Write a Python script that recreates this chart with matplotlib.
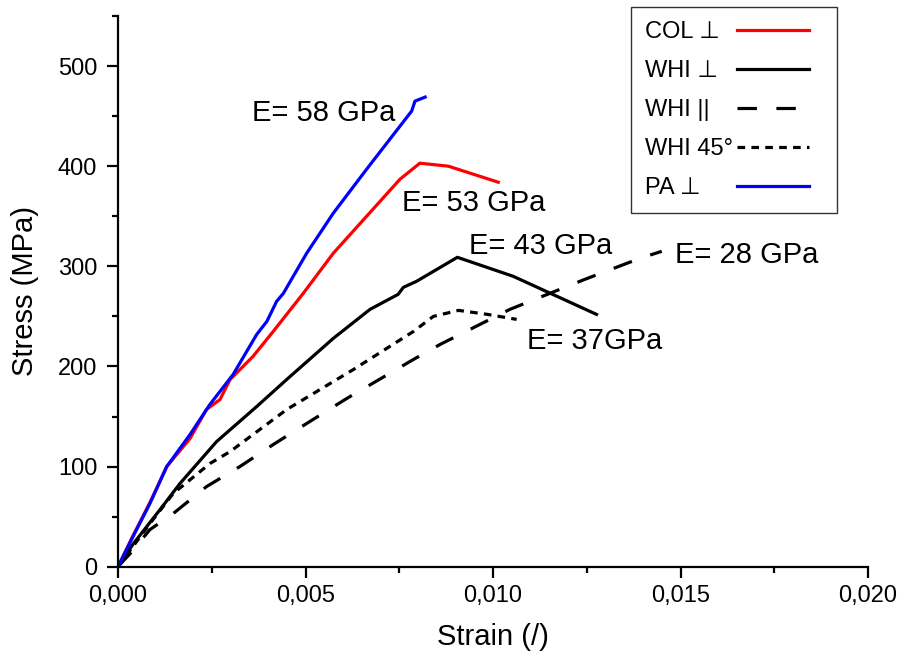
import matplotlib
matplotlib.use("Agg")
import matplotlib.pyplot as plt
import numpy as np
from matplotlib.ticker import MultipleLocator, FuncFormatter

plt.rcParams['font.family'] = ['Liberation Sans', 'DejaVu Sans']
plt.rcParams['lines.scale_dashes'] = False

# Stress-strain curves (strain in /, stress in MPa)
pa_perp_strain = [0, 0.0004, 0.00085, 0.0013, 0.00192, 0.00245, 0.00307, 0.0037, 0.00397,
                  0.00423, 0.00441, 0.00503, 0.00574, 0.00663, 0.00783, 0.00792, 0.00819]
pa_perp_stress = [0, 30, 63, 100, 132, 162, 192, 232, 245,
                  265, 273, 313, 353, 397, 455, 465, 469]

col_perp_strain = [0, 0.0004, 0.00085, 0.0013, 0.00192, 0.00236, 0.00272, 0.00299, 0.0036,
                   0.00414, 0.00494, 0.00574, 0.00663, 0.00752, 0.00805, 0.00881, 0.01014]
col_perp_stress = [0, 31, 64, 100, 128, 157, 167, 187, 210,
                   235, 273, 313, 350, 387, 403, 400, 384]

whi_perp_strain = [0, 0.00041, 0.00112, 0.00165, 0.00263, 0.0037, 0.0045, 0.00574, 0.00672,
                   0.00747, 0.00761, 0.00796, 0.00905, 0.01054, 0.01276]
whi_perp_stress = [0, 23, 57, 83, 125, 160, 187, 228, 257,
                   272, 279, 285, 309, 290, 252]

whi_par_strain = [0, 0.00032, 0.00085, 0.00147, 0.00236, 0.00325, 0.00414, 0.00503, 0.0061,
                  0.00788, 0.00859, 0.01045, 0.01245, 0.01392, 0.0145]
whi_par_stress = [0, 13, 37, 53, 80, 100, 122, 143, 168,
                  207, 222, 257, 287, 308, 315]

whi_45_strain = [0, 0.00085, 0.00147, 0.00245, 0.00299, 0.0045, 0.00628, 0.00788, 0.00841,
                 0.00908, 0.00985, 0.01063]
whi_45_stress = [0, 43, 73, 103, 115, 157, 197, 235, 250,
                 256, 252, 247]

moduli_labels = ["E= 58 GPa", "E= 53 GPa", "E= 43 GPa", "E= 28 GPa", "E= 37GPa"]
moduli_x = [0.00356, 0.00757, 0.00937, 0.01485, 0.0109]
moduli_y = [445, 355, 312, 303, 217]

fig = plt.figure(figsize=(9.02, 6.64), dpi=100)
ax = fig.add_axes([118 / 902, 1 - 566.7 / 664, 750 / 902, (566.7 - 16) / 664])

lw = 2.3
ax.plot(col_perp_strain, col_perp_stress, color='#ff0000', lw=lw, label='COL \u22a5')
ax.plot(whi_perp_strain, whi_perp_stress, color='black', lw=lw, label='WHI \u22a5')
ax.plot(whi_par_strain, whi_par_stress, color='black', lw=lw, ls=(0, (14, 14)), label='WHI ||')
ax.plot(whi_45_strain, whi_45_stress, color='black', lw=lw, ls=(0, (5.5, 4.5)), label='WHI 45\u00b0')
ax.plot(pa_perp_strain, pa_perp_stress, color='#0000ff', lw=lw, label='PA \u22a5')

for txt, x, y in zip(moduli_labels, moduli_x, moduli_y):
    ax.text(x, y, txt, fontsize=21, ha='left', va='baseline')

ax.set_xlim(0, 0.020)
ax.set_ylim(0, 550)
for s in ('top', 'right'):
    ax.spines[s].set_visible(False)
for s in ('left', 'bottom'):
    ax.spines[s].set_linewidth(1.6)

ax.xaxis.set_major_locator(MultipleLocator(0.005))
ax.xaxis.set_minor_locator(MultipleLocator(0.0025))
ax.yaxis.set_major_locator(MultipleLocator(100))
ax.yaxis.set_minor_locator(MultipleLocator(50))
ax.xaxis.set_major_formatter(FuncFormatter(lambda v, p: f"{v:.3f}".replace('.', ',')))
ax.yaxis.set_major_formatter(FuncFormatter(lambda v, p: f"{v:.0f}"))
ax.tick_params(which='major', direction='out', length=8, width=1.6, labelsize=17)
ax.tick_params(which='minor', direction='out', length=4.5, width=1.6)
ax.tick_params(axis='x', which='major', pad=5)
ax.tick_params(axis='y', which='major', pad=7)

ax.set_xlabel('Strain (/)', fontsize=21, labelpad=12)
ax.set_ylabel('Stress (MPa)', fontsize=21)
ax.yaxis.set_label_coords(-0.105, 0.5)

leg = ax.legend(loc='upper left', bbox_to_anchor=(631 / 902, 1 - 7 / 664),
                bbox_transform=fig.transFigure, borderaxespad=0, markerfirst=False,
                fancybox=False, framealpha=1, edgecolor='#333333', fontsize=17,
                handlelength=3.64, handletextpad=0.15, labelspacing=0.72, borderpad=0.6)
leg.get_frame().set_linewidth(1.0)

# Give every legend row the same text width so labels stay left-aligned
renderer = fig.canvas.get_renderer()
widths = [t.get_window_extent(renderer).width for t in leg.get_texts()]
wmax = max(widths)
pt = 72.0 / fig.dpi
for column in leg._legend_handle_box.get_children():
    column.align = 'left'
    for row, w in zip(column.get_children(), widths):
        row.sep = row.sep + (wmax - w) * pt

# Shorten the sample lines to leave a margin on the right of the box
trim = 10.0
for legline in leg.get_lines():
    xd = np.asarray(legline.get_xdata(), dtype=float)
    span = xd.max() - xd.min()
    if span > 0:
        legline.set_xdata(xd.min() + (xd - xd.min()) * (span - trim) / span)

fig.savefig('out.png', dpi=100)
